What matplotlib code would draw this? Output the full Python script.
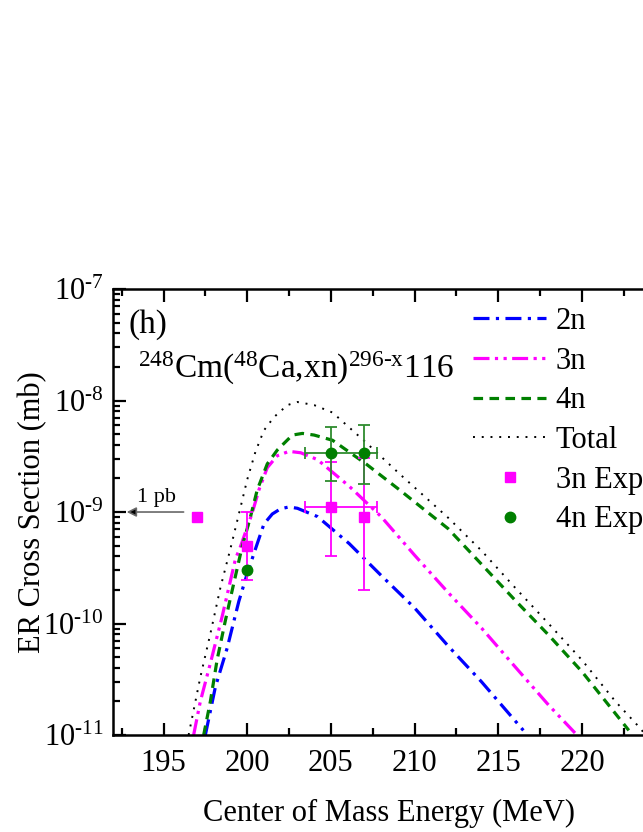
import matplotlib
matplotlib.use('Agg')
import matplotlib.pyplot as plt
from matplotlib.ticker import LogLocator, MultipleLocator, NullFormatter, FuncFormatter
import numpy as np

plt.rcParams['font.family'] = ['Liberation Serif', 'DejaVu Serif']
plt.rcParams['mathtext.fontset'] = 'custom'
plt.rcParams['mathtext.rm'] = 'Liberation Serif'
plt.rcParams['mathtext.it'] = 'Liberation Serif:italic'
plt.rcParams['mathtext.bf'] = 'Liberation Serif:bold'

# ---- calculated ER cross sections (mb) vs E_cm (MeV) ----
e_2n = [197.5, 198.1, 198.8, 199.5, 200.0, 200.6, 201.0, 201.5, 202.0, 202.5, 203.0,
        204.2, 206.1, 208.0, 210.0, 212.0, 214.0, 216.5]
s_2n = [1.0e-11, 2.7e-11, 6.0e-11, 1.58e-10, 2.8e-10, 5.2e-10, 7.8e-10, 9.6e-10, 1.07e-9,
        1.11e-9, 1.08e-9, 9.1e-10, 5.2e-10, 2.7e-10, 1.38e-10, 6.3e-11, 3.0e-11, 1.1e-11]

e_3n = [196.8, 197.2, 197.8, 198.5, 199.3, 199.6, 200.3, 200.7, 201.2, 201.8, 202.5,
        203.2, 204.2, 206.1, 208.0, 210.0, 212.0, 214.0, 216.0, 218.0, 219.7]
s_3n = [1.0e-11, 2.0e-11, 4.4e-11, 1.15e-10, 3.8e-10, 4.9e-10, 9.8e-10, 1.58e-9, 2.5e-9,
        3.2e-9, 3.5e-9, 3.4e-9, 2.95e-9, 1.7e-9, 9.1e-10, 4.1e-10, 1.9e-10, 9.1e-11,
        4.1e-11, 1.86e-11, 1.0e-11]

e_4n = [197.4, 197.8, 198.2, 198.7, 199.2, 199.7, 200.2, 200.6, 201.2, 201.8, 202.7,
        203.3, 204.0, 205.1, 207.1, 209.1, 212.0, 214.0, 216.0, 218.0, 220.0, 222.8]
s_4n = [1.0e-11, 2.0e-11, 4.7e-11, 1.07e-10, 2.3e-10, 4.9e-10, 9.1e-10, 1.58e-9, 2.7e-9,
        3.6e-9, 4.9e-9, 5.07e-9, 4.9e-9, 4.4e-9, 2.7e-9, 1.58e-9, 7.1e-10, 3.4e-10,
        1.62e-10, 7.9e-11, 3.7e-11, 1.1e-11]

e_tot = [196.5, 197.2, 197.8, 198.4, 199.0, 199.6, 200.0, 200.5, 201.0, 201.6, 202.4,
         203.0, 204.0, 205.1, 207.1, 209.1, 212.0, 214.0, 216.0, 218.0, 220.0, 222.0,
         223.3, 224.0]
s_tot = [1.0e-11, 3.3e-11, 8.1e-11, 2.1e-10, 4.7e-10, 1.1e-9, 1.95e-9, 3.5e-9, 5.4e-9,
         7.1e-9, 9.1e-9, 9.7e-9, 9.1e-9, 7.8e-9, 4.2e-9, 2.2e-9, 8.9e-10, 4.5e-10,
         2.1e-10, 1.0e-10, 4.7e-11, 2.0e-11, 1.23e-11, 9.3e-12]

# ---- experimental points ----
exp3_e = [197.0, 200.0, 205.0, 207.0]
exp3_s = [9.0e-10, 5.0e-10, 1.1e-9, 9.0e-10]
# error bars (only for the last three points)
exp3_err_e = [200.0, 205.0, 207.0]
exp3_err_s = [5.0e-10, 1.1e-9, 9.0e-10]
exp3_lo = [2.44e-10, 4.0e-10, 2.0e-10]
exp3_hi = [1.0e-9, 2.8e-9, 3.06e-9]

exp4_e = [200.0, 205.0, 207.0]
exp4_s = [3.0e-10, 3.35e-9, 3.4e-9]
exp4_err_e = [205.0, 207.0]
exp4_err_s = [3.35e-9, 3.4e-9]
exp4_lo = [1.9e-9, 1.8e-9]
exp4_hi = [5.8e-9, 6.05e-9]

# energy range bar (shown on the 205 MeV points)
erange_lo = 203.45
erange_hi = 207.73

fig = plt.figure(figsize=(6.43, 8.32), dpi=100)
ax = fig.add_axes([0.1762, 0.1166, 0.859, 0.536])

lw = 2.3
ax.plot(e_2n, s_2n, color='#0000FF', lw=lw, dashes=(5, 2, 1, 2), label='2n')
ax.plot(e_3n, s_3n, color='#FF00FF', lw=lw, dashes=(5, 1.7, 1, 1.7, 1, 1.7), label='3n')
ax.plot(e_4n, s_4n, color='#008000', lw=lw, dashes=(3, 2), label='4n')
ax.plot(e_tot, s_tot, color='black', lw=1.4, dashes=(1, 3.5), label='Total')

mag = '#FF00FF'
grn = '#2E8B2E'
ebar = dict(fmt='none', elinewidth=1.3, capsize=4, capthick=1.3)
# vertical error bars
ax.errorbar(exp3_err_e, exp3_err_s,
            yerr=[[s - l for s, l in zip(exp3_err_s, exp3_lo)],
                  [h - s for s, h in zip(exp3_err_s, exp3_hi)]],
            ecolor=mag, **ebar)
ax.errorbar(exp4_err_e, exp4_err_s,
            yerr=[[s - l for s, l in zip(exp4_err_s, exp4_lo)],
                  [h - s for s, h in zip(exp4_err_s, exp4_hi)]],
            ecolor=grn, **ebar)
# horizontal energy-range bars
ax.errorbar([exp3_err_e[1]], [exp3_err_s[1]],
            xerr=[[exp3_err_e[1] - erange_lo], [erange_hi - exp3_err_e[1]]],
            ecolor=mag, **ebar)
ax.errorbar([exp4_err_e[0]], [exp4_err_s[0]],
            xerr=[[exp4_err_e[0] - erange_lo], [erange_hi - exp4_err_e[0]]],
            ecolor=grn, **ebar)

ax.plot(exp3_e, exp3_s, 's', color=mag, ms=6.5, mec=mag, ls='none', label='3n Exp')
ax.plot(exp4_e, exp4_s, 'o', color='#007F00', ms=7.5, ls='none', label='4n Exp')

ax.set_yscale('log')
ax.set_xlim(192, 225)
ax.set_ylim(1e-11, 1e-7)
ax.xaxis.set_major_locator(MultipleLocator(5))
ax.xaxis.set_minor_locator(MultipleLocator(2.5))
ax.xaxis.set_major_formatter(FuncFormatter(lambda v, p: '' if v > 222 else '%d' % v))
ax.yaxis.set_major_locator(LogLocator(base=10, numticks=10))
ax.yaxis.set_minor_locator(LogLocator(base=10, subs=range(2, 10), numticks=20))
ax.yaxis.set_major_formatter(FuncFormatter(
    lambda v, p: r'10$^{\text{%d}}$' % int(round(np.log10(v)))))
ax.yaxis.set_minor_formatter(NullFormatter())

ax.tick_params(which='both', direction='in', top=True, right=True, labelsize=22)
ax.tick_params(which='major', length=9, width=1.6)
ax.tick_params(which='minor', length=5, width=1.6)
ax.tick_params(axis='x', pad=10)
ax.tick_params(axis='y', pad=7)
for sp in ax.spines.values():
    sp.set_linewidth(1.8)

ax.set_xlabel('Center of Mass Energy (MeV)', fontsize=22, labelpad=15)
ax.set_ylabel('ER Cross Section (mb)', fontsize=22)
ax.yaxis.set_label_coords(-0.119, 0.5)

ax.text(0.028, 0.955, '(h)', transform=ax.transAxes, fontsize=24, va='top', ha='left')
ax.text(0.045, 0.80, r'$^{248}$Cm($^{48}$Ca,xn)$^{\text{296-x}}$116',
        transform=ax.transAxes, fontsize=24, va='baseline', ha='left')

# 1 pb marker
ax.annotate('', xy=(192.8, 1e-9), xytext=(196.2, 1e-9),
            arrowprops=dict(arrowstyle='-|>', color='dimgray', lw=1.2,
                            mutation_scale=14, shrinkA=0, shrinkB=0,
                            fc='black', ec='dimgray'))
ax.text(194.6, 1.12e-9, '1 pb', fontsize=16, ha='center', va='bottom')

leg = ax.legend(loc='upper left', bbox_to_anchor=(473 / 643, 1 - 307 / 832),
                bbox_transform=fig.transFigure, frameon=False, fontsize=22,
                handlelength=2.4, handletextpad=0.3, labelspacing=0.35,
                borderpad=0, borderaxespad=0, numpoints=1)

fig.savefig('out.png', dpi=100)
